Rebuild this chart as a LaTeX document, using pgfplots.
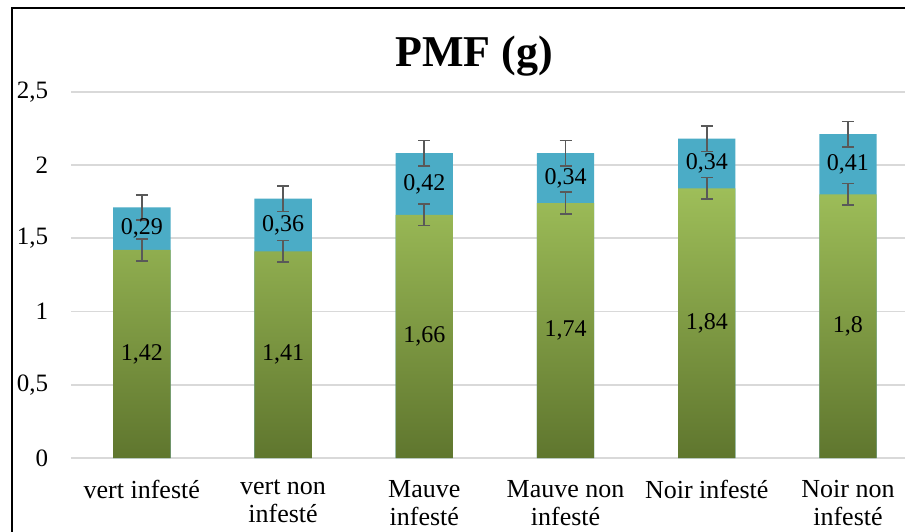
\documentclass[border=0pt]{standalone}
\usepackage{pgfplots}
\pgfplotsset{compat=1.18}
\usepackage{pgfplotstable}
\usepackage{fontspec}
\setmainfont{Liberation Serif}
\definecolor{greentop}{RGB}{158,190,89}
\definecolor{greenbot}{RGB}{95,118,46}
\definecolor{barblue}{RGB}{75,172,198}
\definecolor{errgray}{RGB}{89,89,89}
\definecolor{gridgray}{RGB}{217,217,217}
\pgfplotstableread{
x g gerr b terr
0 1.42 0.074 0.29 0.087
1 1.41 0.074 0.36 0.087
2 1.66 0.074 0.42 0.087
3 1.74 0.074 0.34 0.087
4 1.84 0.074 0.34 0.087
5 1.80 0.074 0.41 0.087
}\data
\begin{document}
\begin{tikzpicture}[x=1pt,y=1pt]
\useasboundingbox (0,0) rectangle (905,531);
\clip (0,0) rectangle (905,531);
\fill[white] (0,0) rectangle (905,531);
\draw[line width=2pt,black] (11.5,-20) -- (11.5,523) -- (960,523);
\node[anchor=base,font=\fontsize{44}{50}\selectfont\bfseries] at (474,464) {PMF (g)};
\begin{axis}[
  at={(71.2pt,73pt)}, anchor=south west,
  scale only axis, width=847.4pt, height=366.3pt,
  xmin=-0.5, xmax=5.5, ymin=0, ymax=2.5,
  axis line style={draw=none},
  major tick length=0pt,
  ytick={0,0.5,1,1.5,2,2.5},
  ymajorgrids, grid style={gridgray, line width=1.8pt},
  xtick={0,1,2,3,4,5},
  xticklabels={vert infesté, vert non\\infesté, Mauve\\infesté, Mauve non\\infesté, Noir infesté, Noir non\\infesté},
  xticklabel style={align=center, anchor=north, inner sep=0pt, yshift=-22pt,
    font=\fontsize{26}{28}\selectfont},
  yticklabel style={anchor=east, inner sep=0pt, xshift=-23pt,
    font=\fontsize{25}{28}\selectfont,
    /pgf/number format/use comma, /pgf/number format/assume math mode=true},
  clip=false,
]
% blue segments (full height, then green drawn over)
\addplot[ybar, bar width=57.4pt, bar shift=0pt, draw=none, fill=barblue]
  table[x=x, y expr=\thisrow{g}+\thisrow{b}] {\data};
\addplot[ybar, bar width=57.4pt, bar shift=0pt, draw=none, top color=greentop, bottom color=greenbot]
  table[x=x, y=g] {\data};
% error bars
\addplot[draw=none, mark=none, error bars/.cd, y dir=both, y explicit,
  error bar style={draw=errgray, solid, line width=1.6pt},
  error mark options={draw=errgray, rotate=90, mark size=6pt, line width=1.6pt}]
  table[x=x, y expr=\thisrow{g}+\thisrow{b}, y error=terr] {\data};
\addplot[draw=none, mark=none, error bars/.cd, y dir=both, y explicit,
  error bar style={draw=errgray, solid, line width=1.6pt},
  error mark options={draw=errgray, rotate=90, mark size=6pt, line width=1.6pt}]
  table[x=x, y=g, y error=gerr] {\data};
% data labels
\addplot[draw=none, mark=none, point meta=explicit,
  nodes near coords={\pgfmathprintnumber[use comma, assume math mode=true]{\pgfplotspointmeta}},
  every node near coord/.append style={anchor=center, inner sep=0pt, black,
    font=\fontsize{24}{28}\selectfont}]
  table[x=x, y expr=\thisrow{g}/2, meta=g] {\data};
\addplot[draw=none, mark=none, point meta=explicit,
  nodes near coords={\pgfmathprintnumber[use comma, assume math mode=true]{\pgfplotspointmeta}},
  every node near coord/.append style={anchor=center, inner sep=0pt, black,
    font=\fontsize{24}{28}\selectfont}]
  table[x=x, y expr=\thisrow{g}+\thisrow{b}/2, meta=b] {\data};
\end{axis}
\end{tikzpicture}
\end{document}
